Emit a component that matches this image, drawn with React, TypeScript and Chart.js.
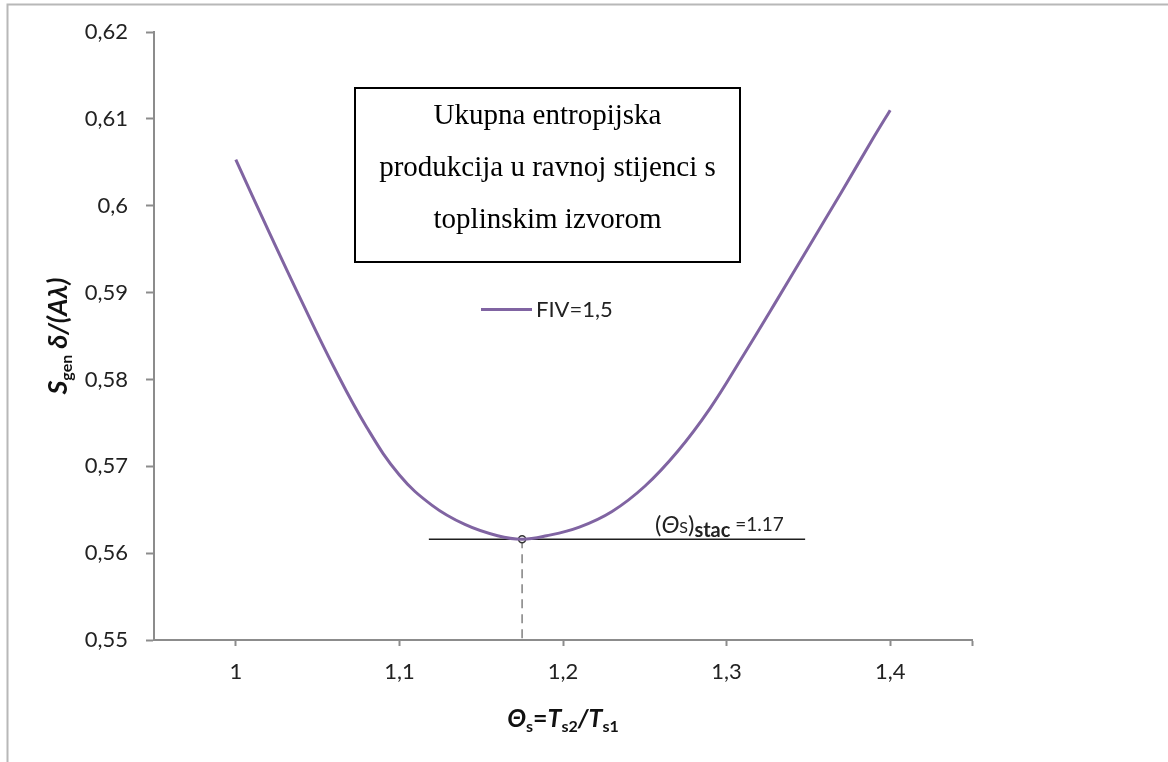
import React, { useEffect, useRef } from 'react';
import { Chart, registerables } from 'chart.js';

Chart.register(...registerables);

// ---------- data ----------
const seriesLabel = 'FIV=1,5';
const thetaValues = [1.0, 1.02, 1.04, 1.06, 1.08, 1.1, 1.12, 1.14, 1.16, 1.175, 1.19, 1.21, 1.23, 1.25, 1.27, 1.29, 1.31, 1.33, 1.35, 1.37, 1.39, 1.4];
const sgenValues = [0.6053, 0.5971, 0.5891, 0.5814, 0.5745, 0.569, 0.5655, 0.5633, 0.562, 0.5616, 0.562, 0.563, 0.5648, 0.5677, 0.5717, 0.5767, 0.5827, 0.5889, 0.5952, 0.6015, 0.6079, 0.611];
const xTickValues = [1, 1.1, 1.2, 1.3, 1.4];
const xAxisMin = 0.95;
const xAxisMax = 1.45;
const yAxisMin = 0.55;
const yAxisMax = 0.62;
const yStep = 0.01;
const thetaStac = 1.175;
const sgenMin = 0.5616;
const tangentFrom = 1.118;
const tangentTo = 1.348;
const stacLabel = '=1.17';
const boxLines = ['Ukupna entropijska', 'produkcija u ravnoj stijenci s', 'toplinskim izvorom'];

const SANS = 'Lato, "Noto Sans", sans-serif';
const SERIF = '"Liberation Serif", "Times New Roman", serif';
const PURPLE = '#8064A2';
const AXIS = '#8c8c8c';
const TEXT = '#222222';

const fmt = (v: number) => String(Math.round(v * 100) / 100).replace('.', ',');

type Part = { t: string; font: string; dy?: number };

function drawRich(ctx: CanvasRenderingContext2D, parts: Part[], x: number, y: number, align: 'left' | 'center') {
  let total = 0;
  for (const p of parts) {
    ctx.font = p.font;
    total += ctx.measureText(p.t).width;
  }
  let cx = align === 'center' ? x - total / 2 : x;
  ctx.textAlign = 'left';
  ctx.textBaseline = 'alphabetic';
  for (const p of parts) {
    ctx.font = p.font;
    ctx.fillText(p.t, cx, y + (p.dy || 0));
    cx += ctx.measureText(p.t).width;
  }
}

const overlayPlugin = {
  id: 'overlay',
  beforeDatasetsDraw(chart: any) {
    const { ctx, scales } = chart;
    const xs = scales.x;
    const ys = scales.y;
    const py = ys.getPixelForValue(sgenMin);
    const px = xs.getPixelForValue(thetaStac);
    ctx.save();
    ctx.strokeStyle = '#1e1e1e';
    ctx.lineWidth = 1.5;
    ctx.beginPath();
    ctx.moveTo(xs.getPixelForValue(tangentFrom), py);
    ctx.lineTo(xs.getPixelForValue(tangentTo), py);
    ctx.stroke();
    ctx.strokeStyle = '#808080';
    ctx.setLineDash([9, 6]);
    ctx.beginPath();
    ctx.moveTo(px, py);
    ctx.lineTo(px, ys.getPixelForValue(yAxisMin));
    ctx.stroke();
    ctx.restore();
  },
  afterDraw(chart: any) {
    const { ctx, chartArea } = chart;
    ctx.save();

    // outer frame (cropped)
    ctx.strokeStyle = '#b8b8b8';
    ctx.lineWidth = 2;
    ctx.beginPath();
    ctx.moveTo(7.5, 762);
    ctx.lineTo(7.5, 4.5);
    ctx.lineTo(1168, 4.5);
    ctx.stroke();

    // text box
    ctx.fillStyle = '#ffffff';
    ctx.fillRect(355, 88, 385, 174);
    ctx.strokeStyle = '#000000';
    ctx.lineWidth = 2;
    ctx.strokeRect(355, 88, 385, 174);
    ctx.fillStyle = '#000000';
    ctx.font = `29px ${SERIF}`;
    ctx.textAlign = 'center';
    ctx.textBaseline = 'alphabetic';
    const baselines = [124, 176, 228];
    boxLines.forEach((l, i) => ctx.fillText(l, 547.5, baselines[i]));

    // legend
    const ds = chart.data.datasets[0];
    ctx.strokeStyle = ds.borderColor;
    ctx.lineWidth = 3;
    ctx.beginPath();
    ctx.moveTo(481, 309.5);
    ctx.lineTo(532, 309.5);
    ctx.stroke();
    ctx.fillStyle = TEXT;
    ctx.font = `22px ${SANS}`;
    ctx.textAlign = 'left';
    ctx.textBaseline = 'middle';
    ctx.fillText(ds.label, 536, 310);

    // stationary label
    ctx.fillStyle = TEXT;
    drawRich(ctx, [
      { t: '(', font: `24px ${SANS}` },
      { t: 'Θ', font: `italic 24px ${SANS}` },
      { t: 'S', font: `16px ${SANS}` },
      { t: ')', font: `24px ${SANS}` },
      { t: 'stac', font: `bold 20px ${SANS}`, dy: 4 },
      { t: ' ' + stacLabel, font: `19px ${SANS}`, dy: -2 },
    ], 655, 533, 'left');

    // x axis title
    const cxMid = (chartArea.left + chartArea.right) / 2;
    ctx.fillStyle = '#111';
    drawRich(ctx, [
      { t: 'Θ', font: `italic bold 25px ${SANS}` },
      { t: 's', font: `bold 16px ${SANS}`, dy: 5 },
      { t: '=', font: `bold 25px ${SANS}` },
      { t: 'T', font: `italic bold 25px ${SANS}` },
      { t: 's2', font: `bold 16px ${SANS}`, dy: 5 },
      { t: '/', font: `italic bold 25px ${SANS}` },
      { t: 'T', font: `italic bold 25px ${SANS}` },
      { t: 's1', font: `bold 16px ${SANS}`, dy: 5 },
    ], cxMid, 727, 'center');

    // y axis title
    const cyMid = (chartArea.top + chartArea.bottom) / 2;
    ctx.translate(67, cyMid);
    ctx.rotate(-Math.PI / 2);
    drawRich(ctx, [
      { t: 'S', font: `italic bold 27px ${SANS}` },
      { t: 'gen', font: `bold 16px ${SANS}`, dy: 5 },
      { t: ' δ/(Aλ)', font: `italic bold 27px ${SANS}` },
    ], 0, 0, 'center');

    ctx.restore();
  },
};

export default function App() {
  const ref = useRef<HTMLCanvasElement | null>(null);

  useEffect(() => {
    if (!ref.current) return;
    const curve = thetaValues.map((t, i) => ({ x: t, y: sgenValues[i] }));
    const chart = new Chart(ref.current, {
      type: 'scatter',
      data: {
        datasets: [
          {
            label: seriesLabel,
            data: curve,
            showLine: true,
            borderColor: PURPLE,
            backgroundColor: PURPLE,
            borderWidth: 3,
            pointRadius: 0,
            tension: 0.4,
          } as any,
          {
            label: 'min',
            data: [{ x: thetaStac, y: sgenMin }],
            showLine: false,
            pointRadius: 3.5,
            pointBackgroundColor: '#ffffff',
            pointBorderColor: '#333333',
            pointBorderWidth: 1.5,
          } as any,
        ],
      },
      options: {
        responsive: false,
        animation: false,
        layout: { padding: { left: 0, top: 32, right: 196, bottom: 0 } },
        plugins: {
          legend: { display: false },
          tooltip: { enabled: false },
          title: { display: false },
        },
        scales: {
          x: {
            type: 'linear',
            min: xAxisMin,
            max: xAxisMax,
            afterBuildTicks: (scale: any) => {
              scale.ticks = [...xTickValues, xAxisMax].map((v) => ({ value: v }));
            },
            afterFit: (scale: any) => {
              scale.height = 122;
            },
            ticks: {
              autoSkip: false,
              maxRotation: 0,
              padding: 13,
              color: TEXT,
              font: { family: SANS, size: 22 },
              callback: (v: any) => (Math.abs(Number(v) - xAxisMax) < 1e-9 ? '' : fmt(Number(v))),
            },
            grid: { drawOnChartArea: false, drawTicks: true, tickLength: 6, tickColor: AXIS, tickWidth: 2 },
            border: { display: true, color: AXIS, width: 2 },
          },
          y: {
            type: 'linear',
            min: yAxisMin,
            max: yAxisMax,
            afterFit: (scale: any) => {
              scale.width = 154;
            },
            ticks: {
              stepSize: yStep,
              padding: 18,
              color: TEXT,
              font: { family: SANS, size: 22 },
              callback: (v: any) => fmt(Number(v)),
            },
            grid: { drawOnChartArea: false, drawTicks: true, tickLength: 8, tickColor: AXIS, tickWidth: 2 },
            border: { display: true, color: AXIS, width: 2 },
          },
        },
      },
      plugins: [overlayPlugin],
    } as any);
    return () => chart.destroy();
  }, []);

  return (
    <div style={{ position: 'absolute', left: 0, top: 0, width: 1168, height: 762, background: '#fff' }}>
      <canvas ref={ref} width={1168} height={762} style={{ display: 'block', width: 1168, height: 762 }} />
    </div>
  );
}
